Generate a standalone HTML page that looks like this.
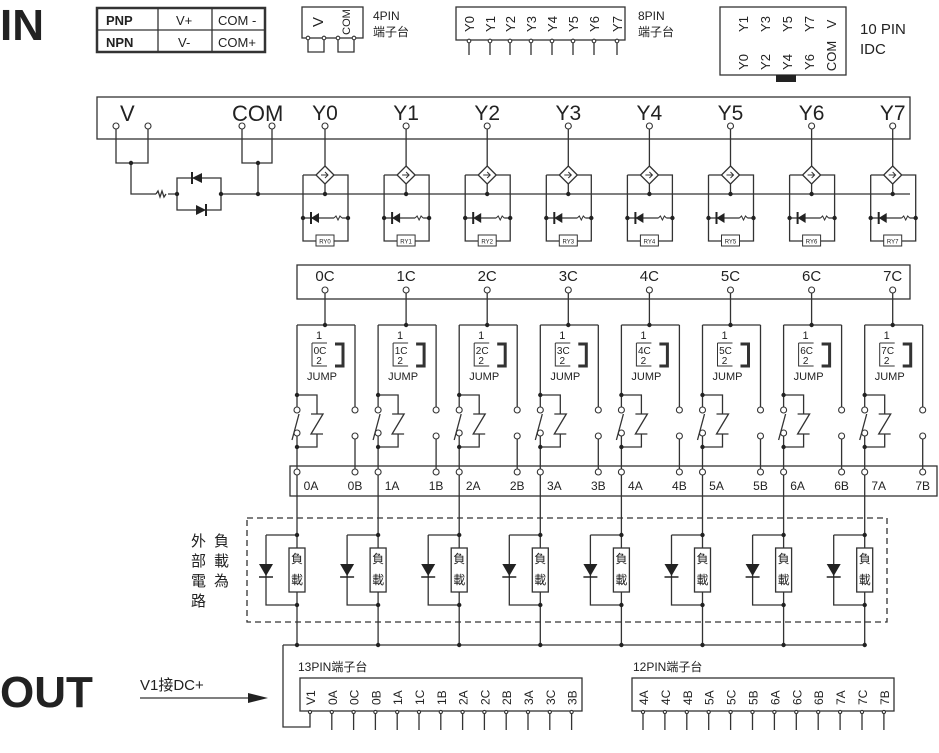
<!DOCTYPE html>
<html><head><meta charset="utf-8"><style>
html,body{margin:0;padding:0;background:#fff;}
svg{display:block;font-family:"Liberation Sans","Noto Sans CJK TC",sans-serif;}
</style></head><body>
<svg id="s" width="939" height="753" viewBox="0 0 939 753" xmlns="http://www.w3.org/2000/svg">
<g stroke="#333" stroke-width="1.3" fill="none">
<rect x="97" y="8" width="168" height="44" stroke-width="2.5"/>
<line x1="97" y1="30" x2="265" y2="30"/><line x1="158" y1="8" x2="158" y2="52"/><line x1="212" y1="8" x2="212" y2="52"/>
<rect x="302" y="7" width="61" height="31"/>
<path d="M308 38V52H324V38M338 38V52H354V38"/>
<rect x="456" y="7" width="169" height="33"/>
<rect x="720" y="7" width="126" height="68"/>
<rect x="97" y="97" width="813" height="42"/>
<path d="M116 126V163H148V126M131 163V194H156M168 194H177M177 194V178H221V210H177V194M221 194H910"/>
<path d="M242 126V163H272V126M258 163V194"/>
<rect x="297" y="265" width="613" height="34"/>
<rect x="290" y="466" width="647" height="30"/>
<rect x="247" y="518" width="640" height="104" stroke-dasharray="6,4"/>
<path d="M283 645H865M283 645V727H310V712"/>
<rect x="300" y="678" width="282" height="33"/>
<rect x="632" y="678" width="262" height="33"/>
<line x1="140" y1="698" x2="250" y2="698"/>
</g>
<polygon points="248,693 268,698 248,703" fill="#222"/>
<rect x="776" y="75" width="20" height="7" fill="#222"/>
<g id="dyn"></g>
<g fill="#222">
<text x="0" y="40" font-size="44" font-weight="bold">IN</text>
<text x="0" y="707" font-size="44" font-weight="bold">OUT</text>
<text x="106" y="25" font-size="13" font-weight="bold">PNP</text>
<text x="106" y="47" font-size="13" font-weight="bold">NPN</text>
<text x="176" y="25" font-size="13">V+</text><text x="178" y="47" font-size="13">V-</text>
<text x="218" y="25" font-size="13">COM -</text><text x="218" y="47" font-size="13">COM+</text>
<text x="373" y="20" font-size="12">4PIN</text><text x="373" y="36" font-size="12">端子台</text>
<text x="638" y="20" font-size="12">8PIN</text><text x="638" y="36" font-size="12">端子台</text>
<text x="860" y="34" font-size="15">10 PIN</text><text x="860" y="54" font-size="15">IDC</text>
<text x="120" y="121" font-size="22">V</text>
<text x="232" y="121" font-size="22">COM</text>
<text x="140" y="690" font-size="15">V1接DC+</text>
<text x="298" y="671" font-size="12">13PIN端子台</text>
<text x="633" y="671" font-size="12">12PIN端子台</text>
<g font-size="15"><text x="191" y="546">外</text><text x="191" y="566">部</text><text x="191" y="586">電</text><text x="191" y="606">路</text>
<text x="214" y="546">負</text><text x="214" y="566">載</text><text x="214" y="586">為</text></g>
</g>
</svg>
<script>
const g=document.getElementById('dyn');let h='';
function T(x,y,t,fs,rot,anchor){h+=`<text x="${x}" y="${y}" font-size="${fs}" fill="#222" text-anchor="${anchor||'middle'}"${rot?` transform="rotate(-90 ${x} ${y})"`:''}>${t}</text>`;}
function C(x,y,r){h+=`<circle cx="${x}" cy="${y}" r="${r||3}" fill="#fff" stroke="#333" stroke-width="1.1"/>`;}
function D(x,y){h+=`<circle cx="${x}" cy="${y}" r="2.2" fill="#222"/>`;}
function P(d,w){h+=`<path d="${d}" stroke="#333" stroke-width="${w||1.3}" fill="none"/>`;}
h+=`<text x="318" y="22" font-size="15" fill="#222" text-anchor="middle" transform="rotate(-90 318 22)" dy="5">V</text>`;
T(350,22,'COM',11,true);
[308,324,338,354].forEach(x=>C(x,38,1.8));
const p8=[469,490,510,531,552,573,594,617];
p8.forEach((x,i)=>{h+=`<text x="${x+5}" y="24" font-size="13" fill="#222" text-anchor="middle" transform="rotate(-90 ${x+5} 24)">Y${i}</text>`;P(`M${x} 42V55`);C(x,41,1.8);});
[['Y1',743,24],['Y3',765,24],['Y5',787,24],['Y7',809,24],['V',831,24],['Y0',743,62],['Y2',765,62],['Y4',787,62],['Y6',809,62],['COM',831,56]].forEach(a=>{h+=`<text x="${a[1]+5}" y="${a[2]}" font-size="13" fill="#222" text-anchor="middle" transform="rotate(-90 ${a[1]+5} ${a[2]})">${a[0]}</text>`;});
[116,148,242,272].forEach(x=>C(x,126));
D(131,163);D(258,163);D(177,194);D(221,194);D(258,194);
P('M156 194l2-3 2 6 2-6 2 6 2-3');
h+=`<polygon points="192,178 202,173 202,183" fill="#222"/><line x1="192" y1="172" x2="192" y2="184" stroke="#222" stroke-width="2"/>`;
h+=`<polygon points="206,210 196,205 196,215" fill="#222"/><line x1="206" y1="204" x2="206" y2="216" stroke="#222" stroke-width="2"/>`;
const sp=81.1;
for(let i=0;i<8;i++){
 const c=325+i*sp, A=297+i*sp, B=355+i*sp;
 T(c,120,'Y'+i,21);C(c,126);
 const l=c-22,r=c+23;
 P(`M${c} 129V166M${l} 175H${c-9}M${c+9} 175H${r}V241H${c+9}M${c-9} 241H${l}V175M${c} 184V194`);
 h+=`<polygon points="${c},166 ${c+9},175 ${c},184 ${c-9},175" fill="#fff" stroke="#333" stroke-width="1.3"/>`;
 P(`M${c-4} 175h7m-3-3l3 3-3 3`,1);
 D(c,194);
 P(`M${l} 218H${r}`);D(l,218);D(r,218);
 h+=`<polygon points="${c-14},218 ${c-6},213 ${c-6},223" fill="#222"/><line x1="${c-14}" y1="212" x2="${c-14}" y2="224" stroke="#222" stroke-width="2"/>`;
 h+=`<rect x="${c+9}" y="214" width="8" height="6" fill="#fff"/>`;P(`M${c+9} 218l2-2 2 4 2-4 2 2`,1);
 h+=`<rect x="${c-9}" y="235" width="18" height="11" fill="#fff" stroke="#333" stroke-width="1"/>`;
 h+=`<text x="${c}" y="243.5" font-size="6" fill="#222" text-anchor="middle">RY${i}</text>`;
 T(c,281,i+'C',15);C(c,290);
 P(`M${c} 293V325M${A} 325H${B}M${A} 325V407M${A} 436V645M${B} 325V407M${B} 439V470`);D(c,325);
 // coil
 P(`M${A} 395H${A+20}V414M${A+20} 434V447H${A}`);
 P(`M${A+14} 414H${A+26}L${A+14} 434H${A+26}`);
 D(A,395);D(A,447);
 C(A,410);C(A,433);P(`M${A-5} 440L${A+2} 414`);
 C(B,410);C(B,436);
 T(c-6,339,'1',11);P(`M${c-13} 343H${c+2}M${c-13} 343V366H${c+2}`,1);
 T(c-5,354,i+'C',10);T(c-6,364,'2',10);
 P(`M${c+10} 344H${c+18}V366H${c+10}`,3);
 T(c-3,380,'JUMP',11);
 C(A,472);C(B,472);T(A+14,490,i+'A',12);T(B,490,i+'B',12);
 const dx=A-31;
 P(`M${dx} 535H${A}M${dx} 535V605H${A}`);D(A,535);D(A,605);D(A,645);
 h+=`<polygon points="${dx-7},564 ${dx+7},564 ${dx},576" fill="#222"/><line x1="${dx-7}" y1="577" x2="${dx+7}" y2="577" stroke="#222" stroke-width="1.5"/>`;
 h+=`<rect x="${A-8}" y="548" width="16" height="44" fill="#fff" stroke="#333" stroke-width="1.3"/>`;
 T(A,563,'負',12);T(A,584,'載',12);
}
const L13=['V1','0A','0C','0B','1A','1C','1B','2A','2C','2B','3A','3C','3B'];
L13.forEach((t,i)=>{const x=310+i*21.8;h+=`<text x="${x+5}" y="705" font-size="12" fill="#222" transform="rotate(-90 ${x+5} 705)">${t}</text>`;if(i>0)P(`M${x} 712V730`);C(x,712,1.6);});
const L12=['4A','4C','4B','5A','5C','5B','6A','6C','6B','7A','7C','7B'];
L12.forEach((t,i)=>{const x=643+i*21.9;h+=`<text x="${x+5}" y="705" font-size="12" fill="#222" transform="rotate(-90 ${x+5} 705)">${t}</text>`;P(`M${x} 712V730`);C(x,712,1.6);});
g.innerHTML=h;
</script>
</body></html>
